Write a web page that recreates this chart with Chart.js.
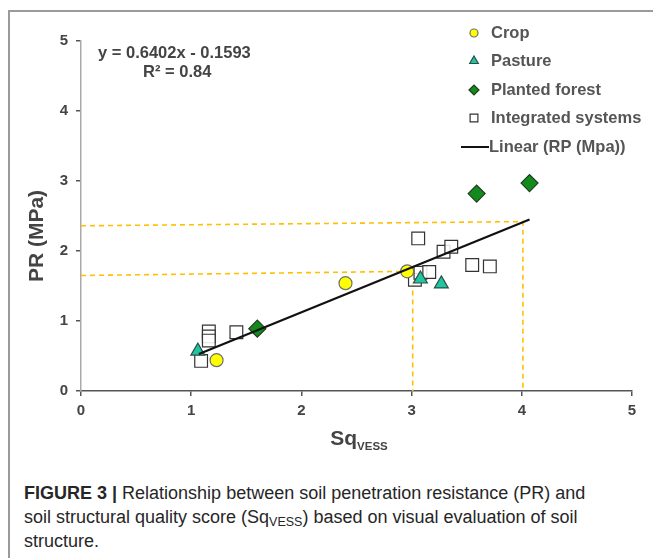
<!DOCTYPE html>
<html>
<head>
<meta charset="utf-8">
<script src="https://cdn.jsdelivr.net/npm/chart.js@4.4.1/dist/chart.umd.min.js"></script>
<style>
  body { margin: 0; background: #fff; }
  #wrap { position: relative; width: 653px; height: 558px; overflow: hidden; }
  #frame { position: absolute; left: 8px; top: 10px; width: 700px; height: 600px;
           border-left: 2px solid #9a9a9a; border-top: 2px solid #9a9a9a; }
  #box { position: absolute; left: 0; top: 0; width: 653px; height: 460px; }
  #caption { position: absolute; left: 24px; top: 481px; width: 628px; white-space: nowrap;
             font: 18px "Liberation Sans", Arial, sans-serif; line-height: 24px; color: #262626; }
  #caption sub { font-size: 12.5px; vertical-align: -3px; line-height: 0; }
</style>
</head>
<body>
<div id="wrap">
  <div id="frame"></div>
  <div id="box"><canvas id="prChart" width="653" height="460"></canvas></div>
  <div id="caption"><b>FIGURE 3 |</b> Relationship between soil penetration resistance (PR) and<br>soil structural quality score (Sq<sub>VESS</sub>) based on visual evaluation of soil<br>structure.</div>
</div>
<script>
// values (x = SqVESS, y = PR in MPa)
const cropX = [1.23, 2.40, 2.96];
const cropY = [0.44, 1.54, 1.71];
const pastureX = [1.06, 3.08, 3.27];
const pastureY = [0.57, 1.60, 1.53];
const forestX = [1.60, 3.59, 4.07];
const forestY = [0.89, 2.82, 2.97];
const integratedX = [1.09, 1.16, 1.16, 1.16, 1.41, 3.03, 3.08, 3.16, 3.06, 3.29, 3.36, 3.55, 3.71];
const integratedY = [0.43, 0.85, 0.78, 0.72, 0.84, 1.59, 1.69, 1.70, 2.18, 1.99, 2.06, 1.80, 1.78];
const fitX = [1.07, 4.07];
const fitY = [0.53, 2.45];
const guideHighX = [0, 4.01, 4.01];
const guideHighY = [2.36, 2.42, 0];
const guideLowX = [0, 3.01, 3.01];
const guideLowY = [1.65, 1.71, 0];
const xTicks = [0, 1, 2, 3, 4, 5];
const yTicks = [0, 1, 2, 3, 4, 5];

const pts = (xs, ys) => xs.map((x, i) => ({ x: x, y: ys[i] }));
const FONT = '"Liberation Sans", Arial, sans-serif';

const series = [
  { label: 'Crop', data: pts(cropX, cropY), pointStyle: 'circle', pointRadius: 6.5,
    backgroundColor: '#ffff00', borderColor: '#6e6e6e', legendRadius: 4 },
  { label: 'Pasture', data: pts(pastureX, pastureY), pointStyle: 'triangle', pointRadius: 8,
    backgroundColor: '#1fc6a2', borderColor: '#2f4f46', legendRadius: 5 },
  { label: 'Planted forest', data: pts(forestX, forestY), pointStyle: 'rectRot', pointRadius: 8.5,
    backgroundColor: '#138a1c', borderColor: '#1f3d1f', legendRadius: 5 },
  { label: 'Integrated systems', data: pts(integratedX, integratedY), pointStyle: 'rect', pointRadius: 9,
    backgroundColor: 'rgba(255,255,255,0.85)', borderColor: '#333', legendRadius: 5.5 }
];

const datasets = series.map(s => ({
  label: s.label, data: s.data, pointStyle: s.pointStyle, pointRadius: s.pointRadius,
  pointHoverRadius: s.pointRadius, backgroundColor: s.backgroundColor, borderColor: s.borderColor,
  borderWidth: 1.2, showLine: false, order: 1
}));

datasets.push({
  label: 'Linear (RP (Mpa))', data: pts(fitX, fitY), showLine: true, pointRadius: 0,
  borderColor: '#111', borderWidth: 2.2, order: 0
});
[pts(guideHighX, guideHighY), pts(guideLowX, guideLowY)].forEach(d => datasets.push({
  label: 'guide', data: d, showLine: true, pointRadius: 0, borderColor: '#ffc000',
  borderWidth: 1.6, borderDash: [5, 4], order: 3
}));

const textPlugin = {
  id: 'texts',
  afterDraw(chart) {
    const ctx = chart.ctx;
    ctx.save();
    ctx.fillStyle = '#444';

    // y axis title
    ctx.save();
    ctx.font = 'bold 21px ' + FONT;
    ctx.translate(37, 236);
    ctx.rotate(-Math.PI / 2);
    ctx.textAlign = 'center';
    ctx.textBaseline = 'middle';
    ctx.fillText('PR (MPa)', 0, 0);
    ctx.restore();

    // x axis title with subscript
    ctx.textAlign = 'left';
    ctx.textBaseline = 'alphabetic';
    ctx.font = 'bold 21px ' + FONT;
    const w = ctx.measureText('Sq').width;
    ctx.font = 'bold 11.5px ' + FONT;
    const w2 = ctx.measureText('VESS').width;
    const x0 = 359 - (w + w2) / 2;
    ctx.font = 'bold 21px ' + FONT;
    ctx.fillText('Sq', x0, 445);
    ctx.font = 'bold 11.5px ' + FONT;
    ctx.fillText('VESS', x0 + w, 450);

    // regression equation
    ctx.font = 'bold 16.5px ' + FONT;
    ctx.textAlign = 'left';
    ctx.textBaseline = 'middle';
    ctx.fillText('y = 0.6402x - 0.1593', 98, 53);
    ctx.fillText('R\u00b2 = 0.84', 143, 72);

    // legend
    const rowsY = [33, 61, 90, 118, 147];
    series.forEach((s, i) => {
      ctx.lineWidth = 1.2;
      ctx.fillStyle = s.backgroundColor;
      ctx.strokeStyle = s.borderColor;
      Chart.helpers.drawPoint(ctx, { pointStyle: s.pointStyle, radius: s.legendRadius, rotation: 0, borderWidth: 1.2 }, 474, rowsY[i]);
      ctx.fillStyle = '#555';
      ctx.font = 'bold 16.5px ' + FONT;
      ctx.fillText(s.label, 491, rowsY[i]);
    });
    ctx.strokeStyle = '#111';
    ctx.lineWidth = 2;
    ctx.beginPath();
    ctx.moveTo(461, rowsY[4]);
    ctx.lineTo(489, rowsY[4]);
    ctx.stroke();
    ctx.fillStyle = '#555';
    ctx.fillText('Linear (RP (Mpa))', 489, rowsY[4]);
    ctx.restore();
  }
};

new Chart(document.getElementById('prChart'), {
  type: 'scatter',
  data: { datasets },
  options: {
    responsive: false,
    animation: false,
    layout: { padding: { left: 0, right: 21, top: 41, bottom: 0 } },
    plugins: { legend: { display: false }, tooltip: { enabled: false } },
    scales: {
      x: {
        type: 'linear', min: 0, max: 5,
        afterBuildTicks: axis => { axis.ticks = xTicks.map(v => ({ value: v })); },
        afterFit: axis => { axis.height = 69; },
        grid: { display: true, drawOnChartArea: false, drawTicks: true, tickLength: 5, color: '#555', lineWidth: 1.5 },
        border: { display: true, color: '#555', width: 1.5 },
        ticks: { padding: 6, color: '#444', font: { family: FONT, size: 15, weight: 'bold' } }
      },
      y: {
        type: 'linear', min: 0, max: 5,
        afterBuildTicks: axis => { axis.ticks = yTicks.map(v => ({ value: v })); },
        afterFit: axis => { axis.width = 81; },
        grid: { display: true, drawOnChartArea: false, drawTicks: true, tickLength: 5, color: '#555', lineWidth: 1.5 },
        border: { display: true, color: '#aaa', width: 1.5 },
        ticks: { padding: 8, color: '#444', font: { family: FONT, size: 15, weight: 'bold' } }
      }
    }
  },
  plugins: [textPlugin]
});
</script>
</body>
</html>
